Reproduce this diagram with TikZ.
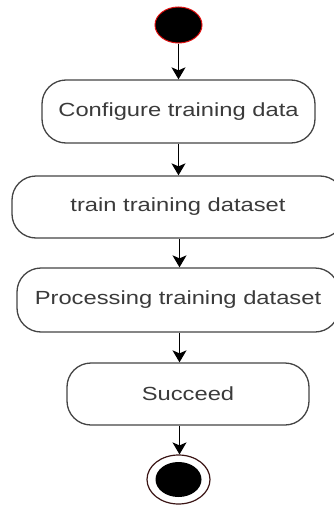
\documentclass[tikz,border=0pt]{standalone}
\usepackage{fontspec}
\setmainfont{Liberation Sans}
\usetikzlibrary{arrows.meta,shapes.geometric}
\definecolor{boxline}{HTML}{444444}
\definecolor{labeltext}{HTML}{3A3A3A}
\definecolor{startrim}{HTML}{E01010}
\definecolor{endrim}{HTML}{3A1414}
\newcommand{\steplabel}[1]{\scalebox{1.25}[1]{\fontsize{19}{22}\selectfont #1}}
\tikzset{
  action/.style={draw=boxline, line width=1.3pt, rounded corners=24pt,
    rectangle, inner sep=0pt, text=labeltext, font=\fontsize{19}{22}\selectfont},
  flow/.style={-{Stealth[length=12pt,width=14pt,inset=3pt]}, line width=1.4pt, black},
  initial/.style={ellipse, fill=black, draw=startrim, line width=1pt,
    minimum width=47pt, minimum height=36pt, inner sep=0pt},
  final/.style={ellipse, draw=endrim, line width=1.2pt, fill=white,
    minimum width=63pt, minimum height=49pt, inner sep=0pt},
  finaldot/.style={ellipse, fill=black, minimum width=46pt, minimum height=35pt, inner sep=0pt}
}
\begin{document}
\begin{tikzpicture}[x=1pt, y=-1pt]
  \useasboundingbox (0,0) rectangle (334,506);
  \clip (0,0) rectangle (334,506);

  % start state
  \node[initial] (start) at (178.5,25) {};

  % activities
  \node[action, minimum width=273pt, minimum height=63pt] (cfg) at (178.5,111.5)
    {\steplabel{Configure training data}};
  \node[action, minimum width=332pt, minimum height=62pt] (train) at (178,207)
    {\steplabel{train training dataset}};
  \node[action, minimum width=322pt, minimum height=64pt] (proc) at (178,300)
    {\steplabel{Processing training dataset}};
  \node[action, minimum width=242pt, minimum height=62pt] (done) at (188,394)
    {\steplabel{Succeed}};

  % end state
  \node[final] (finish) at (178.5,479.5) {};
  \node[finaldot] (finishdot) at (finish.center) {};

  % control flow
  \draw[flow] (start.south) -- (start.south |- cfg.north);
  \draw[flow] (cfg.south) -- (cfg.south |- train.north);
  \draw[flow] ([xshift=1.5pt]train.south) -- ([xshift=1.5pt]train.south |- proc.north);
  \draw[flow] ([xshift=1.5pt]proc.south) -- ([xshift=1.5pt]proc.south |- done.north);
  \draw[flow] ([xshift=1.5pt]proc.south |- done.south) -- ([xshift=1.5pt]proc.south |- finish.north);
\end{tikzpicture}
\end{document}
